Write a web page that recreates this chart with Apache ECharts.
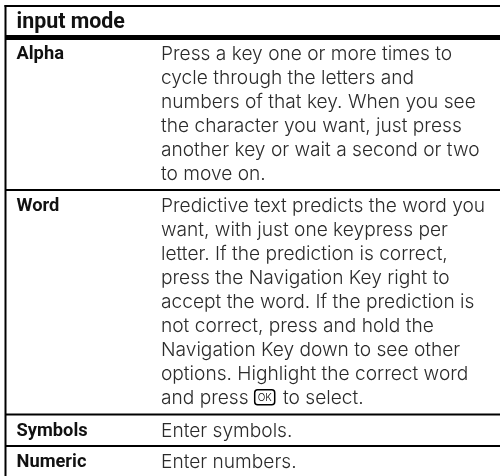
<!DOCTYPE html>
<html>
<head>
<meta charset="utf-8">
<style>html,body{margin:0;padding:0;background:#fff}#main{width:500px;height:476px}</style>
<script src="https://cdn.jsdelivr.net/npm/echarts@6/dist/echarts.min.js"></script>
</head>
<body>
<div id="main"></div>
<script>
var tableTitle = 'input mode';
var modeNames = ['Alpha', 'Word', 'Symbols', 'Numeric'];
var alphaLines = ['Press a key one or more times to', 'cycle through the letters and', 'numbers of that key. When you see', 'the character you want, just press', 'another key or wait a second or two', 'to move on.'];
var wordLines = ['Predictive text predicts the word you', 'want, with just one keypress per', 'letter. If the prediction is correct,', 'press the Navigation Key right to', 'accept the word. If the prediction is', 'not correct, press and hold the', 'Navigation Key down to see other', 'options. Highlight the correct word', 'and press', 'to select.'];
var symbolLines = ['Enter symbols.'];
var numericLines = ['Enter numbers.'];

var chart = echarts.init(document.getElementById('main'));
var ink = '#000';
var textInk = '#2b2b2b';
var els = [];

function rule(x1, y1, x2, y2, w) {
	els.push({ type: 'line', shape: { x1: x1, y1: y1, x2: x2, y2: y2 }, style: { stroke: ink, lineWidth: w } });
}
function label(str, x, y, bold, size) {
	els.push({
		type: 'text', x: x, y: y,
		style: {
			text: str, fill: bold ? '#111' : textInk, verticalAlign: 'middle',
			font: bold ? '700 ' + size + 'px Roboto' : '300 ' + size + 'px Inter'
		}
	});
}

rule(4.5, 6, 500, 6, 2);
rule(5.5, 5, 5.5, 476, 2);
rule(5, 37.5, 500, 37.5, 5);
rule(5, 190, 500, 190, 2);
rule(5, 414.5, 500, 414.5, 2);
rule(5, 446, 500, 446, 2);

label(tableTitle, 16.5, 23, true, 21.4);
label(modeNames[0], 16.5, 54.5, true, 18.3);
label(modeNames[1], 16.5, 206, true, 18.3);
label(modeNames[2], 16.5, 431, true, 18.3);
label(modeNames[3], 16.5, 462.5, true, 18.3);

alphaLines.forEach(function (s, i) { label(s, 161, 54 + i * 24, false, 19.15); });
wordLines.forEach(function (s, i) {
	var x = (i === 9) ? 283 : 161;
	label(s, x, 206 + Math.min(i, 8) * 24, false, 19.15);
});
symbolLines.forEach(function (s) { label(s, 161, 431, false, 19.15); });
numericLines.forEach(function (s) { label(s, 161, 462.5, false, 19.15); });

// OK key icon
els.push({ type: 'rect', shape: { x: 254.7, y: 389.7, width: 20, height: 15, r: 3 }, style: { fill: '#fff', stroke: ink, lineWidth: 1.5 } });
els.push({ type: 'text', x: 264.7, y: 397.5, style: { text: 'OK', fill: ink, align: 'center', verticalAlign: 'middle', font: '300 10px Inter' } });

chart.setOption({
	animation: false,
	backgroundColor: '#fff',
	graphic: { elements: els }
});
</script>
</body>
</html>
